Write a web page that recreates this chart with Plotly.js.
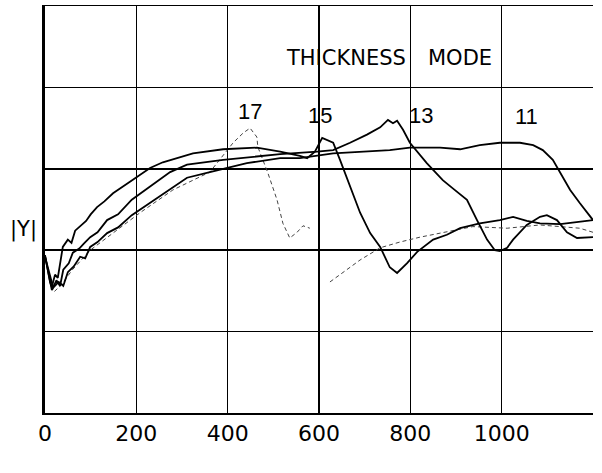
<!DOCTYPE html>
<html>
<head>
<meta charset="utf-8">
<script src="https://cdn.plot.ly/plotly-3.0.1.min.js"></script>
<style>html,body{margin:0;padding:0;background:#fff;}#chart{width:602px;height:473px;}</style>
</head>
<body>
<div id="chart"></div>
<script>
// Frequency (kHz) and |Y| (in grid divisions)
const f17 = [0, 20, 35, 60, 99, 136, 208, 280, 317, 361, 412, 434, 449, 464, 466, 488, 508, 521, 536, 552, 565, 580, 600, 624, 652, 690, 734, 777, 821, 865, 937, 1012, 1084, 1171, 1200];
const y17 = [1.90, 1.49, 1.57, 1.76, 2.00, 2.16, 2.46, 2.74, 2.84, 2.96, 3.32, 3.44, 3.50, 3.39, 3.27, 2.95, 2.62, 2.33, 2.15, 2.22, 2.30, 2.27, null, 1.61, 1.72, 1.88, 2.03, 2.10, 2.16, 2.21, 2.29, 2.27, 2.31, 2.27, 2.22];

const f15 = [0, 11, 15, 22, 28, 39, 50, 58, 66, 77, 90, 100, 114, 130, 149, 186, 230, 258, 324, 390, 464, 515, 558, 574, 591, 607, 631, 646, 668, 690, 712, 734, 755, 771, 793, 815, 850, 880, 909, 952, 996, 1025, 1055, 1084, 1128, 1171, 1200];
const y15 = [1.94, 1.61, 1.55, 1.70, 1.66, 2.04, 2.13, 2.09, 2.24, 2.30, 2.36, 2.44, 2.53, 2.60, 2.70, 2.84, 3.01, 3.08, 3.19, 3.24, 3.26, 3.21, 3.16, 3.13, 3.21, 3.38, 3.32, 3.11, 2.78, 2.46, 2.21, 2.04, 1.79, 1.72, 1.84, 1.98, 2.13, 2.19, 2.27, 2.33, 2.37, 2.41, 2.36, 2.33, 2.32, 2.35, 2.37];

const f13 = [0, 15, 25, 33, 40, 52, 61, 75, 85, 99, 115, 136, 160, 190, 274, 311, 390, 515, 596, 631, 668, 705, 734, 751, 762, 771, 784, 799, 836, 871, 893, 924, 946, 968, 985, 996, 1012, 1025, 1055, 1084, 1099, 1121, 1143, 1165, 1200];
const y13 = [1.93, 1.51, 1.63, 1.56, 1.76, 1.84, 1.97, 2.02, 2.08, 2.16, 2.22, 2.37, 2.44, 2.62, 2.96, 3.05, 3.11, 3.18, 3.21, 3.23, 3.32, 3.42, 3.51, 3.60, 3.56, 3.59, 3.48, 3.32, 3.07, 2.86, 2.76, 2.62, 2.37, 2.13, 2.00, 1.99, 2.03, 2.13, 2.31, 2.41, 2.43, 2.37, 2.22, 2.15, 2.16];

const f11 = [0, 18, 30, 40, 50, 63, 77, 88, 99, 115, 136, 160, 190, 311, 361, 442, 515, 558, 631, 705, 755, 799, 865, 909, 952, 996, 1040, 1069, 1090, 1112, 1128, 1150, 1171, 1200];
const y11 = [1.92, 1.54, 1.61, 1.56, 1.73, 1.80, 1.92, 1.90, 2.04, 2.10, 2.21, 2.28, 2.43, 2.89, 2.96, 3.07, 3.13, 3.13, 3.19, 3.21, 3.23, 3.26, 3.26, 3.24, 3.29, 3.32, 3.32, 3.29, 3.23, 3.11, 2.95, 2.74, 2.58, 2.37];

const xTickVals = [0, 200, 400, 600, 800, 1000, 1200];
const xTickText = ['0', '200', '400', '600', '800', '1000', ''];
const yTickVals = [0, 1, 2, 3, 4, 5];

// curve labels (thickness) and their positions
const curveLabels = ['17', '15', '13', '11'];
const labelX = [449, 602, 823, 1055];
const labelY = [3.70, 3.66, 3.66, 3.64];

const solid = {color: '#000', width: 1.8};
const traces = [
  {x: f17, y: y17, mode: 'lines', line: {color: '#444', width: 1, dash: '4px,3px'}, connectgaps: false, hoverinfo: 'skip'},
  {x: f15, y: y15, mode: 'lines', line: solid, hoverinfo: 'skip'},
  {x: f13, y: y13, mode: 'lines', line: solid, hoverinfo: 'skip'},
  {x: f11, y: y11, mode: 'lines', line: solid, hoverinfo: 'skip'}
];

const font = 'DejaVu Sans, Liberation Sans, sans-serif';
const annotations = curveLabels.map((t, i) => ({
  x: labelX[i], y: labelY[i], xref: 'x', yref: 'y', text: t, showarrow: false,
  xanchor: 'center', yanchor: 'middle',
  font: {family: 'Liberation Sans, Arial, sans-serif', size: 22, color: '#000'}
}));
annotations.push(
  {x: 659, y: 4.36, xref: 'x', yref: 'y', text: 'THICKNESS', showarrow: false, xanchor: 'center', font: {family: font, size: 21, color: '#000'}},
  {x: 909, y: 4.36, xref: 'x', yref: 'y', text: 'MODE', showarrow: false, xanchor: 'center', font: {family: font, size: 21, color: '#000'}},
  {x: -0.040, y: 2.26, xref: 'paper', yref: 'y', text: '|Y|', showarrow: false, xanchor: 'center', font: {family: font, size: 21, color: '#000'}},
  {x: 968, y: -0.53, xref: 'x', yref: 'y', text: 'FREQ (KHz)', showarrow: false, xanchor: 'center', font: {family: font, size: 22, color: '#000'}}
);

const layout = {
  width: 602, height: 473,
  margin: {l: 45, r: 9, t: 6, b: 60},
  paper_bgcolor: '#fff', plot_bgcolor: '#fff',
  showlegend: false,
  xaxis: {
    range: [0, 1200], tickvals: xTickVals, ticktext: xTickText,
    showgrid: true, gridcolor: '#000', gridwidth: 1.5,
    showline: true, linecolor: '#000', linewidth: 1.5, mirror: true,
    ticks: '', zeroline: false,
    tickfont: {family: font, size: 22, color: '#000'}
  },
  yaxis: {
    range: [0, 5], tickvals: yTickVals, showticklabels: false,
    showgrid: true, gridcolor: '#000', gridwidth: 1.5,
    showline: true, linecolor: '#000', linewidth: 3,
    ticks: '', zeroline: false
  },
  annotations: annotations
};

Plotly.newPlot('chart', traces, layout, {staticPlot: true, displayModeBar: false});
</script>
</body>
</html>
